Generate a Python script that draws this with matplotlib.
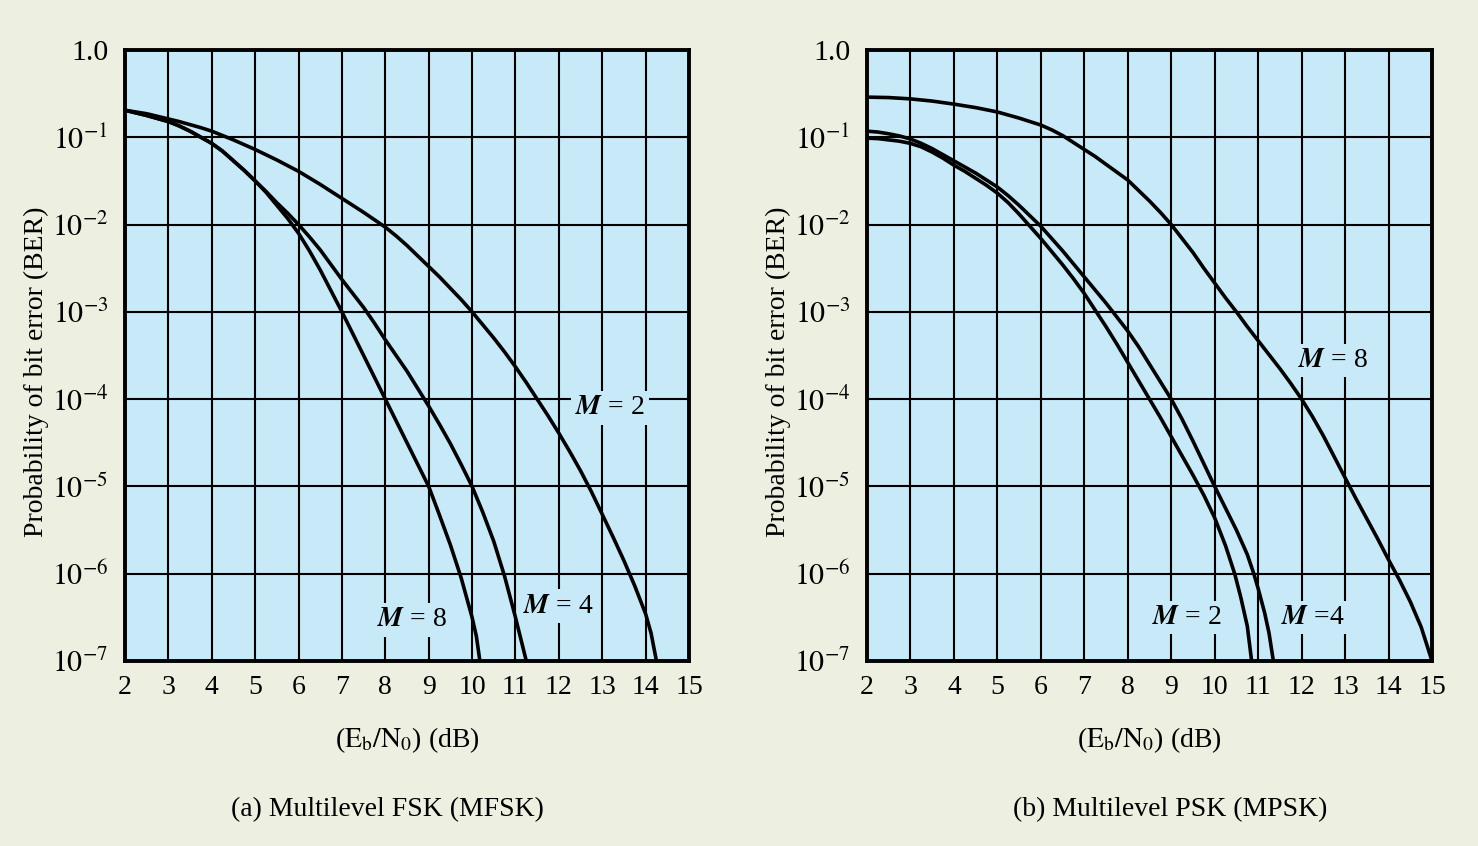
import numpy as np
import matplotlib
matplotlib.use("Agg")
import matplotlib.pyplot as plt

plt.rcParams['font.family'] = ['Liberation Serif', 'DejaVu Serif']
plt.rcParams['mathtext.fontset'] = 'stix'

# ---------------- data (x in dB, y as -log10(BER)) ----------------
fsk_m2_x = [2.0, 2.25, 2.5, 2.75, 3.0, 3.25, 3.5, 3.75, 4.0, 4.25, 4.5, 4.75, 5.0, 5.25, 5.5,
            5.75, 6.0, 6.25, 6.5, 6.75, 7.0, 7.25, 7.5, 7.75, 8.0, 8.25, 8.5, 8.75, 9.0, 9.25,
            9.5, 9.75, 10.0, 10.25, 10.5, 10.75, 11.0, 11.25, 11.5, 11.75, 12.0, 12.25, 12.5,
            12.75, 13.0, 13.25, 13.5, 13.75, 14.0, 14.125, 14.25]
fsk_m2_d = [0.69, 0.71, 0.73, 0.76, 0.79, 0.82, 0.855, 0.89, 0.93, 0.98, 1.03, 1.085, 1.14,
            1.20, 1.26, 1.325, 1.39, 1.465, 1.54, 1.62, 1.70, 1.78, 1.86, 1.945, 2.03, 2.13,
            2.24, 2.36, 2.48, 2.60, 2.73, 2.86, 3.0, 3.15, 3.30, 3.46, 3.63, 3.81, 4.0, 4.19,
            4.39, 4.6, 4.82, 5.06, 5.32, 5.58, 5.85, 6.14, 6.46, 6.68, 7.0]

fsk_m4_x = [2.0, 2.25, 2.5, 2.75, 3.0, 3.25, 3.5, 3.75, 4.0, 4.25, 4.5, 4.75, 5.0, 5.25, 5.5,
            5.75, 6.0, 6.25, 6.5, 6.75, 7.0, 7.25, 7.5, 7.75, 8.0, 8.25, 8.5, 8.75, 9.0, 9.25,
            9.5, 9.75, 10.0, 10.25, 10.5, 10.75, 11.0, 11.25]
fsk_m4_d = [0.69, 0.72, 0.75, 0.785, 0.82, 0.87, 0.93, 1.0, 1.07, 1.16, 1.27, 1.38, 1.50,
            1.62, 1.75, 1.87, 2.0, 2.14, 2.29, 2.46, 2.63, 2.79, 2.95, 3.13, 3.32, 3.50, 3.68,
            3.88, 4.08, 4.29, 4.51, 4.75, 5.0, 5.3, 5.63, 6.03, 6.5, 7.0]

fsk_m8_x = [2.0, 2.25, 2.5, 2.75, 3.0, 3.25, 3.5, 3.75, 4.0, 4.25, 4.5, 4.75, 5.0, 5.25, 5.5,
            5.75, 6.0, 6.25, 6.5, 6.75, 7.0, 7.25, 7.5, 7.75, 8.0, 8.25, 8.5, 8.75, 9.0, 9.25,
            9.5, 9.75, 10.0, 10.1, 10.18]
fsk_m8_d = [0.69, 0.72, 0.75, 0.785, 0.82, 0.87, 0.93, 1.0, 1.07, 1.16, 1.27, 1.38, 1.50,
            1.63, 1.78, 1.93, 2.1, 2.3, 2.52, 2.76, 3.0, 3.25, 3.5, 3.75, 4.0, 4.25, 4.5, 4.75,
            5.0, 5.33, 5.67, 6.05, 6.5, 6.72, 7.0]

psk_m2_x = [2.0, 2.25, 2.5, 2.75, 3.0, 3.25, 3.5, 3.75, 4.0, 4.25, 4.5, 4.75, 5.0, 5.25, 5.5,
            5.75, 6.0, 6.25, 6.5, 6.75, 7.0, 7.25, 7.5, 7.75, 8.0, 8.25, 8.5, 8.75, 9.0, 9.25,
            9.5, 9.75, 10.0, 10.25, 10.46, 10.6, 10.75, 10.85]
psk_m2_d = [1.01, 1.015, 1.03, 1.045, 1.07, 1.11, 1.17, 1.24, 1.32, 1.39, 1.47, 1.55, 1.64,
            1.75, 1.88, 2.02, 2.16, 2.31, 2.46, 2.62, 2.79, 2.98, 3.17, 3.37, 3.58, 3.79, 4.0,
            4.21, 4.43, 4.65, 4.87, 5.1, 5.36, 5.68, 6.0, 6.27, 6.6, 7.0]

psk_m4_x = [2.0, 2.25, 2.5, 2.75, 3.0, 3.25, 3.5, 3.75, 4.0, 4.25, 4.5, 4.75, 5.0, 5.25, 5.5,
            5.75, 6.0, 6.25, 6.5, 6.75, 7.0, 7.25, 7.5, 7.75, 8.0, 8.25, 8.5, 8.75, 9.0, 9.25,
            9.5, 9.75, 10.0, 10.25, 10.5, 10.75, 10.9, 11.0, 11.15, 11.25, 11.35]
psk_m4_d = [0.93, 0.94, 0.96, 0.985, 1.02, 1.07, 1.13, 1.2, 1.27, 1.34, 1.41, 1.49, 1.57,
            1.67, 1.78, 1.9, 2.02, 2.16, 2.3, 2.45, 2.6, 2.75, 2.9, 3.06, 3.22, 3.4, 3.6, 3.8,
            4.0, 4.23, 4.48, 4.74, 5.0, 5.25, 5.5, 5.78, 6.0, 6.17, 6.45, 6.68, 7.0]

psk_m8_x = [2.0, 2.5, 3.0, 3.5, 4.0, 4.5, 5.0, 5.5, 6.0, 6.25, 6.5, 6.75, 7.0, 7.25, 7.5, 7.75,
            8.0, 8.25, 8.5, 8.75, 9.0, 9.25, 9.5, 9.75, 10.0, 10.25, 10.5, 10.75, 11.0, 11.25,
            11.5, 11.75, 12.0, 12.25, 12.5, 12.75, 13.0, 13.25, 13.5, 13.75, 14.0, 14.25, 14.5,
            14.75, 15.0]
psk_m8_d = [0.54, 0.545, 0.56, 0.585, 0.62, 0.66, 0.71, 0.78, 0.86, 0.915, 0.98, 1.06, 1.14,
            1.22, 1.31, 1.40, 1.49, 1.61, 1.73, 1.86, 2.0, 2.16, 2.32, 2.5, 2.67, 2.84, 3.0,
            3.17, 3.33, 3.49, 3.65, 3.82, 4.0, 4.2, 4.42, 4.66, 4.9, 5.14, 5.37, 5.6, 5.84,
            6.07, 6.32, 6.61, 7.0]

x_ticks = list(range(2, 16))
y_ticks = [1.0, 1e-1, 1e-2, 1e-3, 1e-4, 1e-5, 1e-6, 1e-7]
y_tick_labels = ['1.0', r'$10^{-1}$', r'$10^{-2}$', r'$10^{-3}$', r'$10^{-4}$',
                 r'$10^{-5}$', r'$10^{-6}$', r'$10^{-7}$']

fsk_labels = [('= 2', 13.18, 10 ** -4.10), ('= 4', 11.98, 10 ** -6.37), ('= 8', 8.62, 10 ** -6.53)]
psk_labels = [('= 8', 12.72, 10 ** -3.56), ('= 2', 9.36, 10 ** -6.5), ('=4', 12.26, 10 ** -6.5)]

titles = ['(a) Multilevel FSK (MFSK)', '(b) Multilevel PSK (MPSK)']
ylabel = 'Probability of bit error (BER)'
xlabel = r'($\mathrm{E_b/N_0}$) (dB)'

# ---------------- styling ----------------
FIG_BG = '#EDF0E1'
AX_BG = '#C8E9F7'
FS = 20
FS_Y = 21.5

fig = plt.figure(figsize=(14.78, 8.46), dpi=100, facecolor=FIG_BG)
ax1 = fig.add_axes([125 / 1478, 1 - 661 / 846, 564 / 1478, 611 / 846])
ax2 = fig.add_axes([867 / 1478, 1 - 661 / 846, 565 / 1478, 611 / 846])


def style(ax):
    ax.set_facecolor(AX_BG)
    ax.set_yscale('log')
    ax.set_xlim(2, 15)
    ax.set_ylim(1e-7, 1.0)
    ax.set_xticks(x_ticks)
    ax.set_xticklabels([str(t) for t in x_ticks], fontsize=FS)
    ax.set_yticks(y_ticks)
    ax.set_yticklabels(y_tick_labels, fontsize=FS_Y)
    ax.yaxis.set_minor_locator(matplotlib.ticker.NullLocator())
    ax.tick_params(length=0)
    ax.tick_params(axis='y', pad=12)
    ax.tick_params(axis='x', pad=10)
    ax.grid(True, color='black', linewidth=1.5, zorder=1)
    ax.set_axisbelow(True)
    for s in ax.spines.values():
        s.set_linewidth(2.8)
        s.set_zorder(5)
    ax.set_ylabel(ylabel, fontsize=FS)
    ax.yaxis.set_label_coords(-0.135, 0.473)
    ax.set_xlabel(xlabel, fontsize=FS)
    ax.xaxis.set_label_coords(0.5, -0.105)


style(ax1)
style(ax2)

lw = 2.6
for xs, ds in [(fsk_m2_x, fsk_m2_d), (fsk_m4_x, fsk_m4_d), (fsk_m8_x, fsk_m8_d)]:
    ax1.plot(xs, 10.0 ** (-np.array(ds)), color='black', lw=lw, zorder=3,
             solid_capstyle='butt', solid_joinstyle='round')
for xs, ds in [(psk_m2_x, psk_m2_d), (psk_m4_x, psk_m4_d), (psk_m8_x, psk_m8_d)]:
    ax2.plot(xs, 10.0 ** (-np.array(ds)), color='black', lw=lw, zorder=3,
             solid_capstyle='butt', solid_joinstyle='round')

box = dict(facecolor=AX_BG, edgecolor='none', pad=3)
for rest, x, y in fsk_labels:
    ax1.text(x, y, r'$\mathbfit{M}$ ' + rest, fontsize=FS, ha='center', va='center',
             bbox=box, zorder=4)
for rest, x, y in psk_labels:
    ax2.text(x, y, r'$\mathbfit{M}$ ' + rest, fontsize=FS, ha='center', va='center',
             bbox=box, zorder=4)

fig.text(387 / 1478, 1 - 810 / 846, titles[0], fontsize=FS, ha='center', va='center')
fig.text(1170 / 1478, 1 - 810 / 846, titles[1], fontsize=FS, ha='center', va='center')

fig.savefig('out.png', dpi=100, facecolor=FIG_BG)
